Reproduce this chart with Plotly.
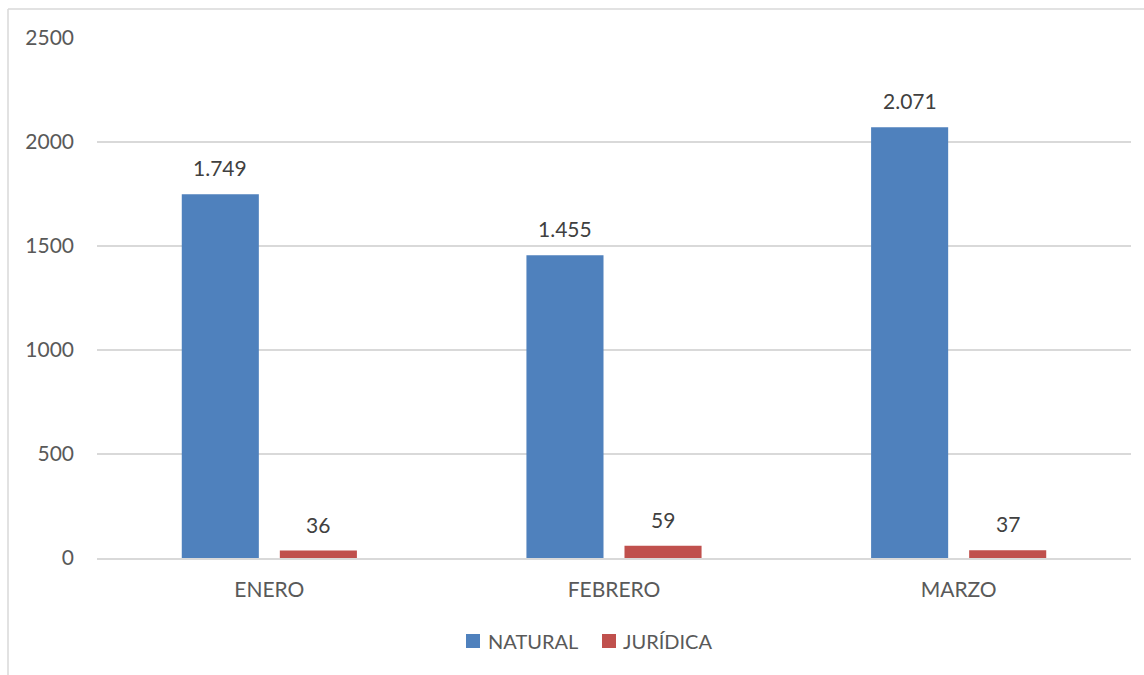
import plotly.graph_objects as go

categories = ["ENERO", "FEBRERO", "MARZO"]
natural = [1749, 1455, 2071]
juridica = [36, 59, 37]
series_names = ["NATURAL", "JURÍDICA"]
y_ticks = [0, 500, 1000, 1500, 2000, 2500]

W, H = 1144, 675
ML, MR, MT, MB = 97, 13, 38, 117
FONT = "Lato, 'Open Sans', sans-serif"
COLORS = ["#4F81BD", "#C0504D"]

fig = go.Figure()
for name, vals, col in zip(series_names, (natural, juridica), COLORS):
    fig.add_trace(go.Bar(name=name, x=categories, y=vals, marker_color=col,
                         marker_line_width=0, showlegend=False))

def fmt(v):
    return f"{v:,}".replace(",", ".")

plot_w = W - ML - MR
plot_h = H - MT - MB
cat_w = plot_w / len(categories)
bargap = 0.431
bargroupgap = 0.214
slot = cat_w * (1 - bargap) / 2
for vals, sgn in ((natural, -1), (juridica, 1)):
    for c, v in zip(categories, vals):
        fig.add_annotation(x=c, y=v, text=fmt(v), showarrow=False, yanchor="bottom",
                           xshift=sgn * slot / 2, yshift=12,
                           font=dict(family=FONT, size=21, color="#404040"))

# custom legend (squares + text) centred below the axis
def px_x(x):
    return (x - ML) / plot_w

def px_y(y):
    return (H - MB - y) / plot_h

shapes = []
leg_items = [(466, 486), (602, 621)]
for (sx, tx), name, col in zip(leg_items, series_names, COLORS):
    shapes.append(dict(type="rect", xref="paper", yref="paper",
                       x0=px_x(sx), x1=px_x(sx + 14), y0=px_y(648), y1=px_y(634),
                       fillcolor=col, line=dict(width=0)))
    fig.add_annotation(xref="paper", yref="paper", x=px_x(tx), y=px_y(641),
                       xanchor="left", yanchor="middle", text=name, showarrow=False,
                       font=dict(family=FONT, size=20, color="#595959"))

shapes += [
    dict(type="line", xref="paper", yref="paper",
         x0=px_x(8), x1=px_x(8), y0=px_y(9), y1=px_y(H + 5),
         line=dict(color="#D9D9D9", width=1.5)),
    dict(type="line", xref="paper", yref="paper",
         x0=px_x(8), x1=px_x(W + 5), y0=px_y(9), y1=px_y(9),
         line=dict(color="#D9D9D9", width=1.5)),
]

fig.update_layout(
    width=W, height=H,
    margin=dict(l=ML, r=MR, t=MT, b=MB),
    paper_bgcolor="white", plot_bgcolor="white",
    barmode="group", bargap=bargap, bargroupgap=bargroupgap,
    font=dict(family=FONT, size=20, color="#595959"),
    showlegend=False,
    xaxis=dict(showgrid=False, showline=True, linecolor="#D9D9D9", linewidth=1.5,
               ticks="", ticklabelstandoff=12,
               tickfont=dict(family=FONT, size=21, color="#595959")),
    yaxis=dict(range=[0, 2500], tickvals=y_ticks, showgrid=True, gridcolor="#D9D9D9",
               gridwidth=1.5, zeroline=False, showline=False, ticks="",
               ticklabelstandoff=22,
               tickfont=dict(family=FONT, size=21, color="#595959")),
    shapes=shapes,
)

fig.write_html("out.html")
